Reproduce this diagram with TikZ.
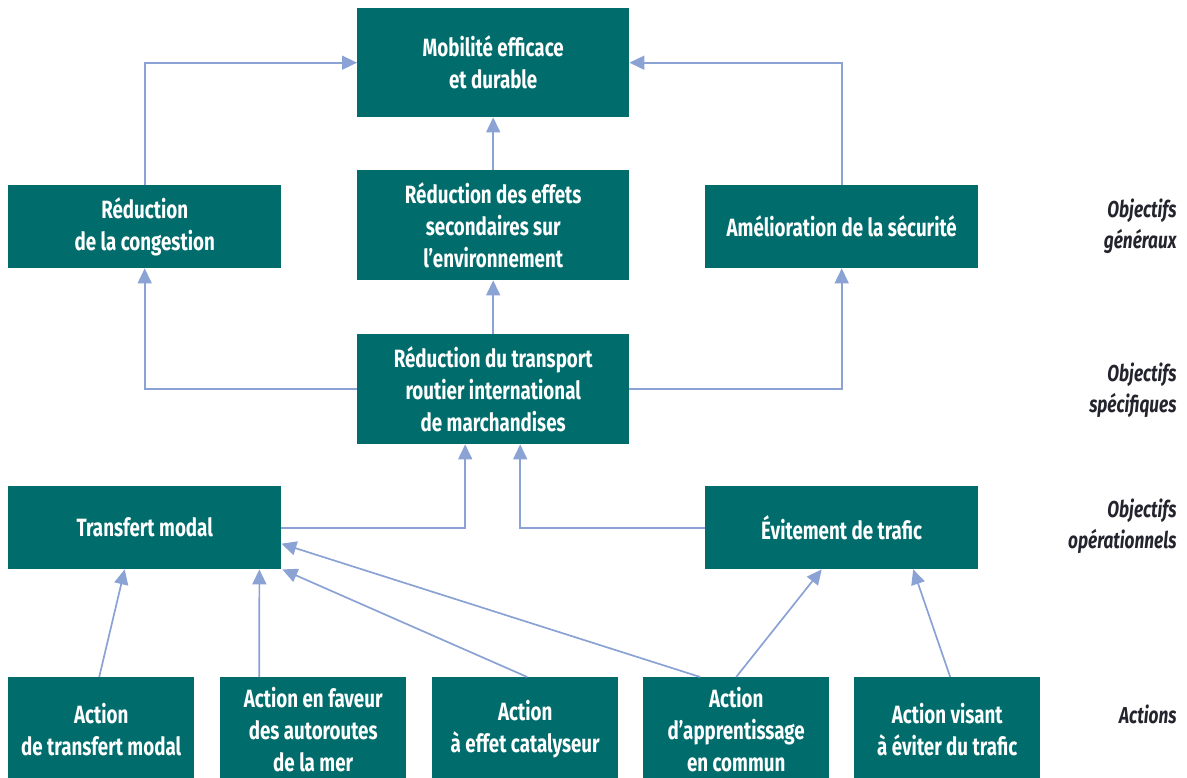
\documentclass[tikz,border=0pt]{standalone}
\usepackage{fontspec}
\setmainfont{Fira Sans}[FakeStretch=0.75]
\usetikzlibrary{arrows.meta}
\definecolor{teal1}{HTML}{006C6C}
\definecolor{arrc}{HTML}{8AA2D4}
\definecolor{lab}{HTML}{24242E}
\tikzset{
  box/.style={fill=teal1, draw=none, anchor=north west, inner sep=2pt,
    text=white, align=center, font=\bfseries\fontsize{25}{32}\selectfont},
  arr/.style={draw=arrc, line width=1.7pt, -{Triangle[length=15pt,width=14pt]}},
  lev/.style={text=lab, align=right, anchor=east, font=\bfseries\itshape\fontsize{23}{31}\selectfont}
}
\begin{document}
\begin{tikzpicture}[x=1pt,y=-1pt]
\useasboundingbox (0,0) rectangle (1187,778);
\node[box, minimum width=272pt, minimum height=109pt] (Mob) at (357,8) {Mobilité efficace\\et durable};
\node[box, minimum width=273pt, minimum height=83pt] (Cong) at (8,185) {Réduction\\de la congestion};
\node[box, minimum width=272pt, minimum height=110pt] (Env) at (357,170) {Réduction des effets\\secondaires sur\\l’environnement};
\node[box, minimum width=273pt, minimum height=83pt] (Sec) at (705,185) {Amélioration de la sécurité};
\node[box, minimum width=272pt, minimum height=110pt] (Trans) at (357,334) {Réduction du transport\\routier international\\de marchandises};
\node[box, minimum width=273pt, minimum height=83pt] (TM) at (8,486) {Transfert modal};
\node[box, minimum width=273pt, minimum height=83pt] (Evit) at (705,486) {Évitement de trafic};
\node[box, minimum width=186pt, minimum height=104pt] (A1) at (8,677) {Action\\de transfert modal};
\node[box, minimum width=186pt, minimum height=104pt] (A2) at (220,677) {Action en faveur\\des autoroutes\\de la mer};
\node[box, minimum width=186pt, minimum height=104pt] (A3) at (432,677) {Action\\à effet catalyseur};
\node[box, minimum width=186pt, minimum height=104pt] (A4) at (643,677) {Action\\d’apprentissage\\en commun};
\node[box, minimum width=186pt, minimum height=104pt] (A5) at (854,677) {Action visant\\à éviter du trafic};

\node[lev] (L1) at (1180,226) {Objectifs\\généraux};
\node[lev] (L2) at (1180,390) {Objectifs\\spécifiques};
\node[lev] (L3) at (1180,526) {Objectifs\\opérationnels};
\node[lev] (L4) at (1180,714) {Actions};

\draw[arr] (Cong.north) |- (Mob.west);
\draw[arr] (Sec.north) |- (Mob.east);
\draw[arr] (Env.north) -- (Mob.south);
\draw[arr] (Trans.north) -- (Env.south);
\draw[arr] (Trans.west) -| (Cong.south);
\draw[arr] (Trans.east) -| (Sec.south);
\draw[arr] (TM.east) -| ([xshift=-28pt]Trans.south);
\draw[arr] (Evit.west) -| ([xshift=27pt]Trans.south);
\draw[arr] ([xshift=-2pt]A1.north) -- ([xshift=-20pt]TM.south);
\draw[arr] ([xshift=-54pt]A2.north) -- ([xshift=-22pt]TM.south east);
\draw[arr] ([xshift=2pt]A3.north) -- ([xshift=1pt]TM.south east);
\draw[arr] ([xshift=-36pt]A4.north) -- ([yshift=-16pt]TM.east);
\draw[arr] (A4.north) -- ([xshift=-20pt]Evit.south);
\draw[arr] ([xshift=3pt]A5.north) -- ([xshift=71.5pt]Evit.south);
\end{tikzpicture}
\end{document}
